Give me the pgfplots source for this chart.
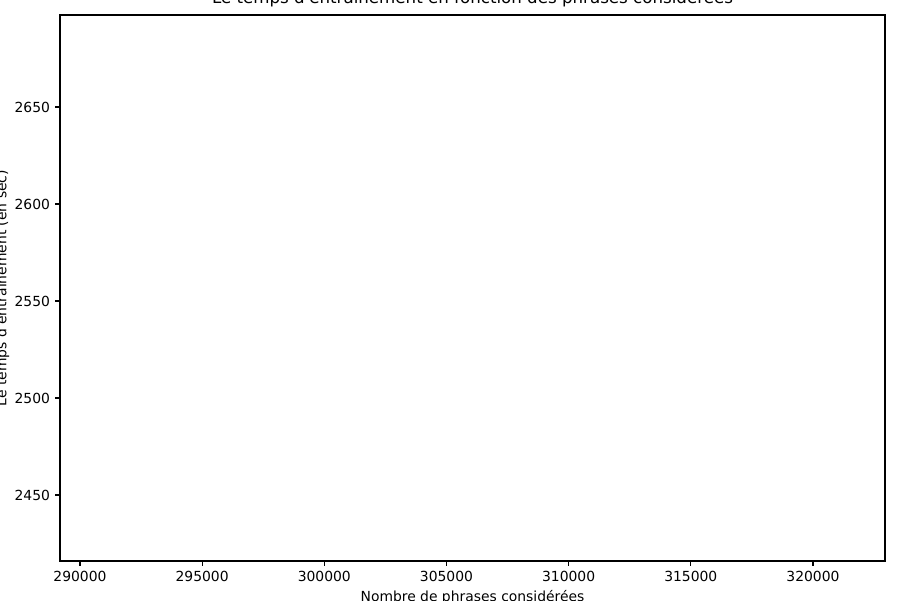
\documentclass[border=0pt]{standalone}
\usepackage{fontspec}
\setmainfont{DejaVu Sans}
\usepackage{pgfplots}
\pgfplotsset{compat=1.18}
\begin{document}
\begin{tikzpicture}
\begin{axis}[
  at={(0,0)}, anchor=south west,
  scale only axis,
  width=594pt, height=393.1pt,
  xmin=289181, xmax=322947,
  ymin=2416, ymax=2697.4,
  xtick={290000,295000,300000,305000,310000,315000,320000},
  ytick={2450,2500,2550,2600,2650},
  scaled x ticks=false, scaled y ticks=false,
  /pgf/number format/.cd, fixed, 1000 sep={}, assume math mode=true,
  /pgfplots/.cd,
  tick align=outside,
  xtick pos=bottom, ytick pos=left,
  major tick length=3.5pt,
  tick style={black, line width=0.8pt},
  axis line style={black, line width=0.8pt},
  ticklabel style={font=\fontsize{10}{12}\selectfont},
  xticklabel style={inner sep=0pt, yshift=-3.5pt},
  yticklabel style={inner sep=0pt, xshift=-3.5pt},
  title={Le temps d\textquotesingle entraînement en fonction des phrases considérées},
  title style={at={(0.5,1)}, anchor=base, yshift=2.5pt, inner sep=0pt, font=\fontsize{12}{14}\selectfont},
  xlabel={Nombre de phrases considérées},
  xlabel style={at={(axis description cs:0.5,-0.0532)}, anchor=north, inner sep=0pt, font=\fontsize{10}{12}\selectfont},
  ylabel={Le temps d\textquotesingle entraînement (en sec)},
  ylabel style={at={(axis description cs:-0.0613,0.5)}, rotate=0, anchor=south, inner sep=0pt, font=\fontsize{10}{12}\selectfont},
]
\end{axis}
\pgfresetboundingbox
\useasboundingbox (-43.2pt,-28.08pt) rectangle (604.8pt,403.92pt);
\end{tikzpicture}
\end{document}
